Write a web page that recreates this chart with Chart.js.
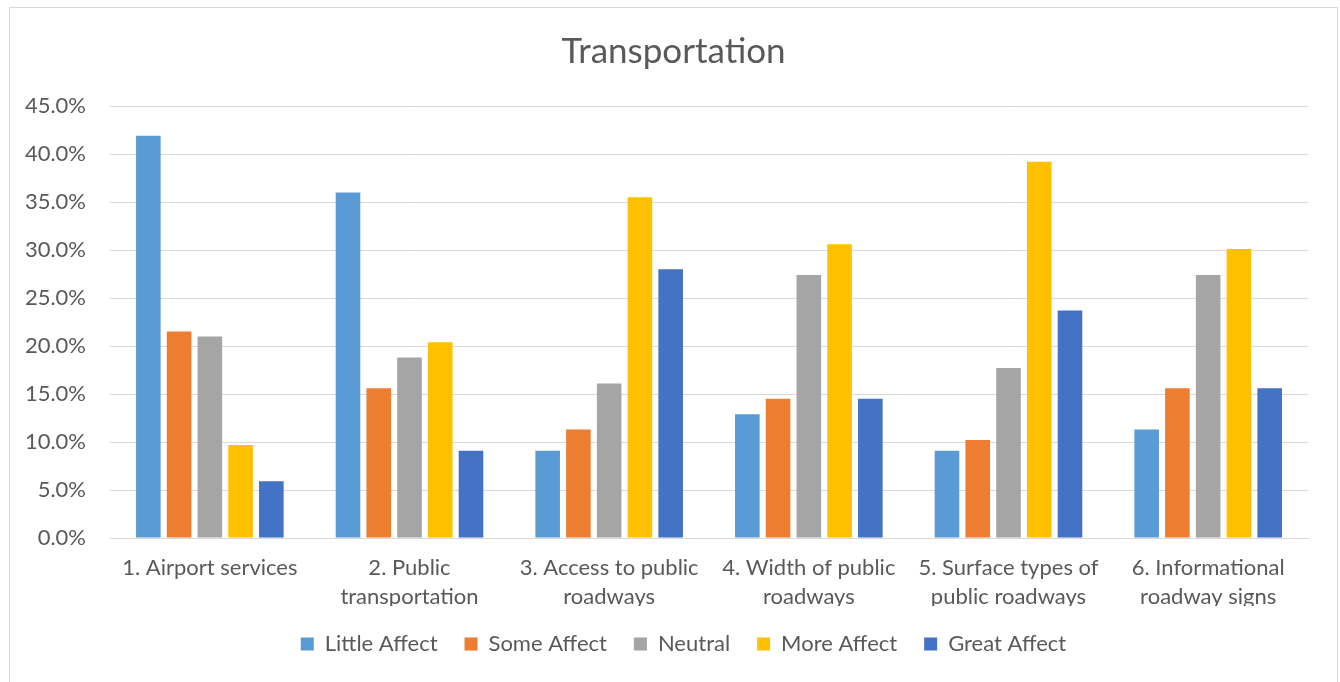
<!DOCTYPE html>
<html>
<head>
<meta charset="utf-8">
<script src="https://cdn.jsdelivr.net/npm/chart.js@4.4.1/dist/chart.umd.min.js"></script>
<style>
  html, body { margin: 0; padding: 0; background: #ffffff; }
  #wrap { position: relative; width: 1340px; height: 682px; overflow: hidden; }
  #frame { position: absolute; left: 9px; top: 7px; width: 1329px; height: 700px; border: 1px solid #d9d9d9; box-sizing: border-box; pointer-events: none; }
  canvas { position: absolute; left: 0; top: 0; }
</style>
</head>
<body>
<div id="wrap">
  <canvas id="chart" width="1340" height="682"></canvas>
  <div id="frame"></div>
</div>
<script>
// Survey responses for transportation items, share of respondents (%)
const categories = [
  "1. Airport services",
  ["2. Public", "transportation"],
  ["3. Access to public", "roadways"],
  ["4. Width of public", "roadways"],
  ["5. Surface types of", "public roadways"],
  ["6. Informational", "roadway signs"]
];
const seriesNames = ["Little Affect", "Some Affect", "Neutral", "More Affect", "Great Affect"];
const littleAffect = [41.9, 36.0, 9.1, 12.9, 9.1, 11.3];
const someAffect   = [21.5, 15.6, 11.3, 14.5, 10.2, 15.6];
const neutral      = [21.0, 18.8, 16.1, 27.4, 17.7, 27.4];
const moreAffect   = [9.7, 20.4, 35.5, 30.6, 39.2, 30.1];
const greatAffect  = [5.9, 9.1, 28.0, 14.5, 23.7, 15.6];
const yTicks = [0, 5, 10, 15, 20, 25, 30, 35, 40, 45];

const colors = ["#5B9BD5", "#ED7D31", "#A5A5A5", "#FFC000", "#4472C4"];
const values = [littleAffect, someAffect, neutral, moreAffect, greatAffect];
const textColor = "#595959";
const gridColor = "#d9d9d9";
const fontFamily = "Lato, 'Open Sans', sans-serif";

const datasets = seriesNames.map((name, i) => ({
  label: name,
  data: values[i],
  backgroundColor: colors[i],
  borderWidth: 0,
  categoryPercentage: 0.77,
  barPercentage: 0.8
}));

// Centre the title and the legend on the framed panel
const frameCentre = 9 + 1329 / 2;
const centreOnFrame = {
  id: "centreOnFrame",
  afterLayout(chart) {
    [[chart.titleBlock, frameCentre], [chart.legend, frameCentre + 10]].forEach(([box, target]) => {
      if (!box) return;
      const shift = target - (box.left + box.right) / 2;
      box.left += shift;
      box.right += shift;
      if (box.legendHitBoxes) box.legendHitBoxes.forEach((h) => { h.left += shift; });
    });
  }
};

new Chart(document.getElementById("chart"), {
  type: "bar",
  data: { labels: categories, datasets: datasets },
  plugins: [centreOnFrame],
  options: {
    responsive: false,
    animation: false,
    layout: { padding: { left: 10, right: 32, top: 10, bottom: 17 } },
    plugins: {
      title: {
        display: true,
        text: "Transportation",
        color: textColor,
        font: { family: fontFamily, size: 35, weight: "normal", lineHeight: 1.2 },
        padding: { top: 21, bottom: 33 }
      },
      legend: {
        position: "bottom",
        labels: {
          color: textColor,
          font: { family: fontFamily, size: 22 },
          boxWidth: 13,
          boxHeight: 13,
          padding: 27
        }
      },
      tooltip: { enabled: false }
    },
    scales: {
      x: {
        grid: { display: false, drawTicks: false },
        border: { display: true, color: gridColor, width: 1 },
        ticks: {
          color: textColor,
          font: { family: fontFamily, size: 22, lineHeight: 1.32 },
          padding: 15,
          maxRotation: 0,
          autoSkip: false
        },
        afterFit: (scale) => { scale.height = 68; }
      },
      y: {
        min: 0,
        max: 45,
        afterBuildTicks: (scale) => { scale.ticks = yTicks.map(v => ({ value: v })); },
        grid: { color: gridColor, lineWidth: 1, drawTicks: false },
        border: { display: false },
        ticks: {
          color: textColor,
          font: { family: fontFamily, size: 22 },
          padding: 24,
          callback: (v) => v.toFixed(1) + "%"
        },
        afterFit: (scale) => { scale.width = 100; }
      }
    }
  }
});
</script>
</body>
</html>
